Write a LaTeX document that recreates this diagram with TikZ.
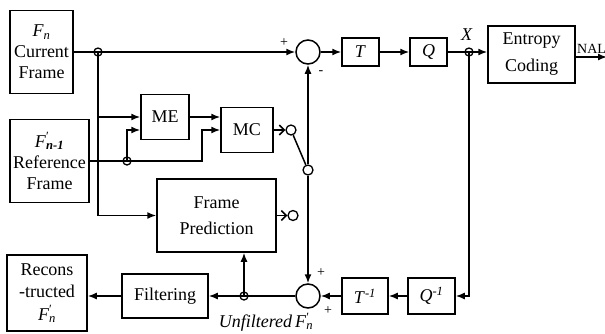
\documentclass[tikz,border=0pt]{standalone}
\usepackage{fontspec}
\setmainfont{Liberation Serif}
\usetikzlibrary{arrows.meta,positioning}
\newcommand{\fr}[1]{\textit{F}\textsubscript{\textit{#1}}}
\newcommand{\frp}[1]{\textit{F}\rlap{\textsuperscript{′}}\textsubscript{\textit{#1}}}

\begin{document}
\begin{tikzpicture}[x=1pt,y=-1pt,font=\fontsize{18}{21}\selectfont,
  blk/.style={draw,line width=1.5pt,align=center,inner sep=0pt},
  sum/.style={draw,circle,line width=1.5pt,minimum size=24pt,inner sep=0pt},
  jn/.style={draw,circle,line width=1.3pt,minimum size=8pt,inner sep=0pt},
  sw/.style={draw,circle,line width=1.3pt,minimum size=10pt,inner sep=0pt},
  ln/.style={line width=1.5pt},
  arr/.style={ln,-{Latex[length=9pt,width=7pt]}},
  stub/.style={ln,-{Straight Barb[length=5pt,width=10pt]}},
  sgn/.style={font=\fontsize{14}{14}\selectfont,inner sep=0pt}]
  \useasboundingbox (0,0) rectangle (605,333);
  % blocks
  \node[blk,minimum width=63pt,minimum height=83pt](cur) at (41.5,52){\fr{n}\\Current\\Frame};
  \node[blk,minimum width=79pt,minimum height=83pt](ref) at (49.5,161){\frp{\textbf{n-1}}\\Reference\\Frame};
  \node[blk,minimum width=48pt,minimum height=45pt](me) at (165,117){ME};
  \node[blk,minimum width=52pt,minimum height=45pt](mc) at (247,130){MC};
  \node[blk,minimum width=119pt,minimum height=73pt](fp) at (216.5,215.5){Frame\\[5pt]Prediction};
  \node[sum](sub) at (308,52){};
  \node[blk,minimum width=37pt,minimum height=28pt](tb) at (360.5,52){\textit{T}};
  \node[blk,minimum width=37pt,minimum height=28pt](qb) at (428.5,52){\textit{Q}};
  \node[blk,minimum width=87pt,minimum height=57pt](ec) at (531.5,54.5){Entropy\\[6pt]Coding};
  \node[blk,minimum width=47pt,minimum height=36pt](qi) at (431.5,296){\textit{Q}\textsuperscript{\textit{-1}}};
  \node[blk,minimum width=46pt,minimum height=36pt](ti) at (365,296){\textit{T}\textsuperscript{\textit{-1}}};
  \node[sum](add) at (308,296){};
  \node[blk,minimum width=86pt,minimum height=44pt](filt) at (165,296){Filtering};
  \node[blk,minimum width=80pt,minimum height=76pt](rec) at (47,293){Recons\\[1pt]-tructed\\[2pt]\frp{n}};
  % junctions and switch contacts
  \node[jn](j1) at (98,52){};
  \node[jn](j2) at (127,161){};
  \node[jn](j3) at (469,52){};
  \node[jn](j4) at (244,296){};
  \node[sw](c1) at (291,130){};
  \node[sw](c2) at (293,215.5){};
  \node[sw](pv) at (308,170){};
  \coordinate (me2) at ([yshift=-13pt]me.west);
  \coordinate (out) at (607,57);
  % labels
  \node[sgn](p1) at (284,43){+};
  \node[sgn](m1) at (321,73){-};
  \node[sgn](p2) at (321,273){+};
  \node[sgn](p3) at (328,311){+};
  \node(xl) at (467,35){\textit{X}};
  \node[sgn,anchor=west](nal) at (577,49){NAL};
  \node(unf) at (266,322){\textit{Unfiltered}\,\frp{n}};
  % forward path
  \draw[arr](cur.east)--(cur.east -| sub.west);\draw[arr](sub.east)--(tb.west);\draw[arr](tb.east)--(qb.west);
  \draw[arr](qb.east)--(j3.center -| ec.west);\draw[arr](ec.east |- out)--(out);
  \draw[arr](j1.center)|-(fp.west);\draw[arr](j1.center |- me.west)--(me.west);
  \draw[arr](ref.east)--++(112,0)|-(mc.west);\draw[arr](j2.center)|-(me2);
  \draw[arr](me.east)--(me.east -| mc.west);
  % switch
  \draw[stub](mc.east)--(c1.west);\draw[stub](fp.east)--(c2.west);
  \draw[ln](c1)--(pv);
  \draw[arr](pv.north)--(sub.south);\draw[arr](pv.south)--(add.north);
  % reconstruction loop
  \draw[arr](j3.center)|-(qi.east);\draw[arr](qi.west)--(ti.east);\draw[arr](ti.west)--(add.east);
  \draw[arr](add.west)--(filt.east);\draw[arr](filt.west)--(filt.west -| rec.east);
  \draw[arr](j4.center)--(j4.center |- fp.south);
\end{tikzpicture}
\end{document}
